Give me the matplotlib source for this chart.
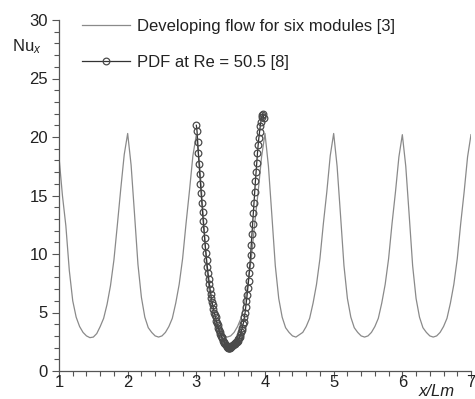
import numpy as np
import matplotlib
matplotlib.use("Agg")
import matplotlib.pyplot as plt
from matplotlib.ticker import MultipleLocator

plt.rcParams['font.family'] = ['Liberation Sans', 'DejaVu Sans']
plt.rcParams['mathtext.fontset'] = 'custom'
plt.rcParams['mathtext.rm'] = 'Liberation Sans'
plt.rcParams['mathtext.it'] = 'Liberation Sans:italic'

# ---- data: developing flow for six modules (sampled every 0.05 in x/Lm) ----
dev_x = np.round(np.arange(1.0, 7.0001, 0.05), 2)
dev_y = [
    # 1.00 - 1.95
    18.3, 15.0, 12.4, 8.6, 6.0, 4.6, 3.8, 3.3, 3.0, 2.85, 2.9, 3.2, 3.8, 4.5, 5.7, 7.3, 9.5, 12.5, 15.6, 18.5,
    # 2.00 - 2.95
    20.3, 17.6, 13.4, 9.1, 6.3, 4.6, 3.7, 3.3, 3.0, 2.9, 3.0, 3.3, 3.8, 4.5, 5.8, 7.4, 9.6, 12.6, 15.4, 18.4,
    # 3.00 - 3.95
    20.2, 17.5, 13.3, 9.0, 6.2, 4.6, 3.7, 3.3, 3.0, 2.9, 3.0, 3.3, 3.8, 4.5, 5.8, 7.4, 9.6, 12.6, 15.3, 18.3,
    # 4.00 - 4.95
    20.3, 17.5, 13.3, 9.0, 6.2, 4.6, 3.7, 3.3, 3.0, 2.9, 3.1, 3.3, 3.8, 4.5, 5.8, 7.4, 9.6, 12.6, 15.3, 18.4,
    # 5.00 - 5.95
    20.3, 17.5, 13.3, 9.0, 6.2, 4.6, 3.7, 3.3, 3.0, 2.9, 3.0, 3.3, 3.8, 4.5, 5.8, 7.4, 9.6, 12.6, 15.3, 18.3,
    # 6.00 - 6.95
    20.2, 17.5, 13.3, 9.0, 6.2, 4.6, 3.7, 3.3, 3.0, 2.9, 3.0, 3.3, 3.8, 4.5, 5.8, 7.4, 9.6, 12.6, 15.3, 18.3,
    # 7.00
    20.2,
]

# ---- data: PDF at Re = 50.5 (sampled every 0.01 in x/Lm from 3.00 to 3.98) ----
pdf_x = np.round(np.arange(3.00, 3.98001, 0.01), 2)
pdf_y = [
    21.0, 20.5, 19.6, 18.6, 17.7, 16.8, 16.0, 15.2, 14.4, 13.6,
    12.8, 12.1, 11.4, 10.7, 10.1, 9.5, 8.9, 8.4, 7.9, 7.4,
    7.0, 6.6, 6.2, 5.9, 5.6, 5.3, 5.0, 4.8, 4.6, 4.3,
    4.1, 3.9, 3.7, 3.5, 3.3, 3.2, 3.0, 2.9, 2.8, 2.6,
    2.5, 2.4, 2.3, 2.2, 2.1, 2.05, 2.0, 1.95, 2.0, 2.0,
    2.05, 2.1, 2.1, 2.2, 2.2, 2.3, 2.3, 2.4, 2.5, 2.5,
    2.6, 2.7, 2.8, 2.9, 3.1, 3.3, 3.5, 3.7, 4.0, 4.2,
    4.6, 5.0, 5.5, 6.0, 6.5, 7.1, 7.7, 8.4, 9.1, 9.9,
    10.8, 11.7, 12.6, 13.5, 14.4, 15.3, 16.2, 17.0, 17.8, 18.6,
    19.3, 19.9, 20.4, 20.9, 21.3, 21.7, 21.9, 22.0, 21.6,
]

x_ticks = [1, 2, 3, 4, 5, 6, 7]
y_ticks = [0, 5, 10, 15, 20, 25, 30]
label_dev = "Developing flow for six modules [3]"
label_pdf = "PDF at Re = 50.5 [8]"

fig = plt.figure(figsize=(4.75, 3.99), dpi=100)
ax = fig.add_axes([59/475, 28/399, 412/475, 351/399])

ax.plot(dev_x, dev_y, color='#8a8a8a', lw=0.9, label=label_dev)
ax.plot(pdf_x, pdf_y, color='#333333', lw=0.9, marker='o', ms=4.8,
        mfc='none', mec='#4a4a4a', mew=0.9, label=label_pdf)

ax.set_xlim(1, 7)
ax.set_ylim(0, 30)
ax.set_xticks(x_ticks)
ax.set_yticks(y_ticks)
ax.xaxis.set_minor_locator(MultipleLocator(0.2))
ax.yaxis.set_minor_locator(MultipleLocator(1))

for s in ['top', 'right']:
    ax.spines[s].set_visible(False)
for s in ['left', 'bottom']:
    ax.spines[s].set_color('#555555')
    ax.spines[s].set_linewidth(0.9)

ax.tick_params(axis='both', which='both', direction='out', colors='#555555',
               labelcolor='#222222', labelsize=12, width=0.8)
ax.tick_params(axis='both', which='major', length=5)
ax.tick_params(axis='both', which='minor', length=3.5)
ax.tick_params(axis='x', which='major', pad=-2)
ax.tick_params(axis='y', which='major', pad=3)

fig.text(12/475, 1 - 47/399, r'Nu$_x$', fontsize=12, color='#222222', va='center', ha='left')
fig.text(437/475, 1 - 392/399, 'x/Lm', fontsize=12, style='italic', color='#222222',
         va='center', ha='center')

leg = ax.legend(loc='upper left', bbox_to_anchor=(82/475, 1 - 19/399),
                bbox_transform=fig.transFigure, frameon=False, fontsize=12,
                borderpad=0, borderaxespad=0, handlelength=2.9, handletextpad=0.42,
                labelspacing=1.25)
for t in leg.get_texts():
    t.set_color('#222222')

fig.savefig('out.png', dpi=100)
